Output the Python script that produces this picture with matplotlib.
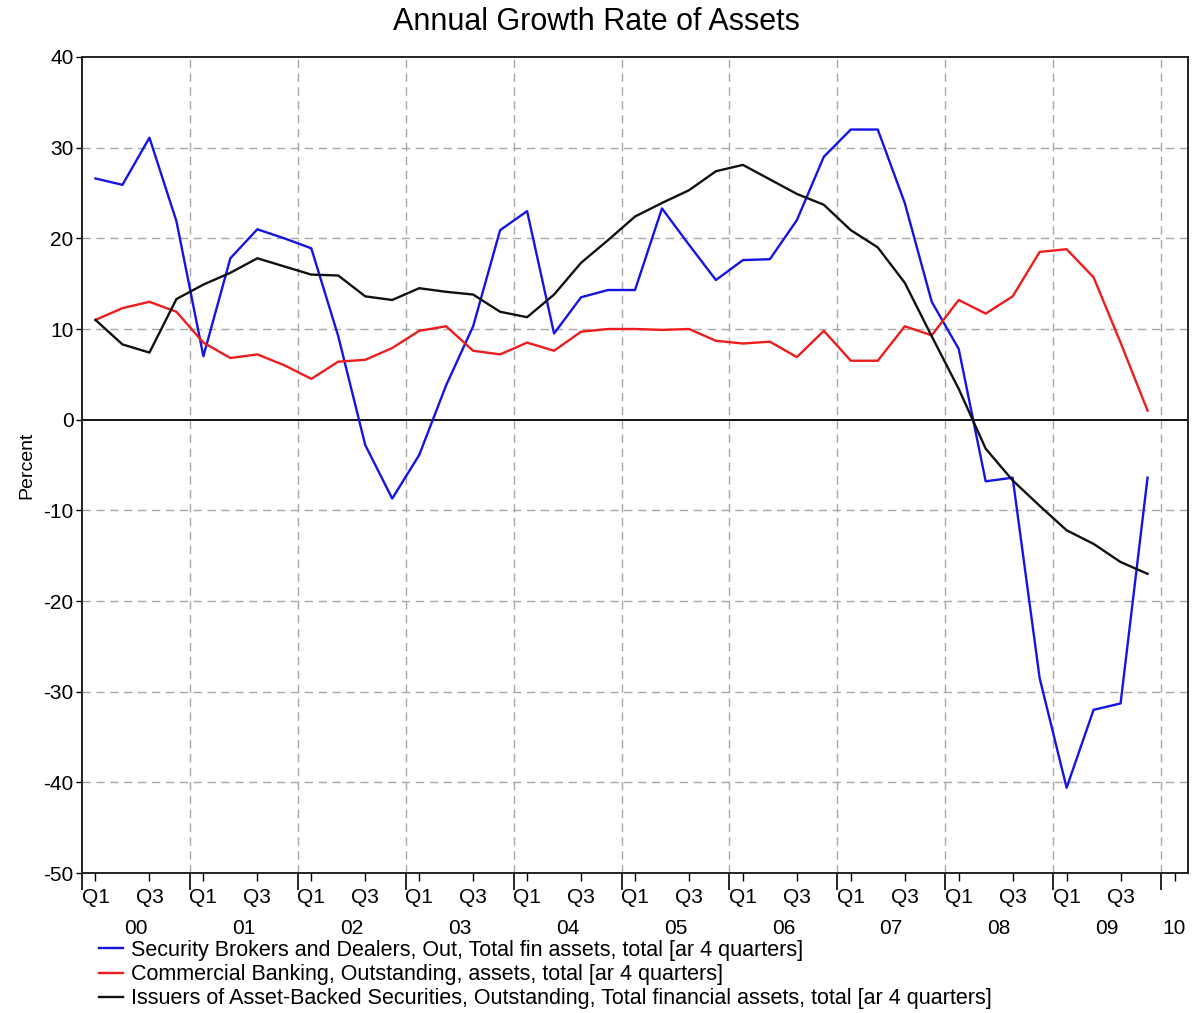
import numpy as np
import matplotlib.pyplot as plt
from matplotlib.ticker import FixedLocator

plt.rcParams["font.family"] = ["Liberation Sans", "DejaVu Sans"]
plt.rcParams["axes.unicode_minus"] = False

# ── Quarterly annual growth rates, 2000Q1 .. 2009Q4 (percent) ────────────────
YEARS = list(range(2000, 2010))
YEAR_LABELS = ["00", "01", "02", "03", "04", "05", "06", "07", "08", "09", "10"]

brokers = [26.6, 25.9, 31.1, 21.9, 7.0, 17.8, 21.0, 20.0, 18.9, 9.2,
           -2.8, -8.7, -3.9, 3.8, 10.3, 20.9, 23.0, 9.5, 13.5, 14.3,
           14.3, 23.3, 19.3, 15.4, 17.6, 17.7, 22.0, 29.0, 32.0, 32.0,
           23.9, 13.0, 7.8, -6.8, -6.4, -28.5, -40.6, -32.0, -31.3, -6.4]

banking = [11.0, 12.3, 13.0, 11.9, 8.5, 6.8, 7.2, 6.0, 4.5, 6.4,
           6.6, 7.9, 9.8, 10.3, 7.6, 7.2, 8.5, 7.6, 9.7, 10.0,
           10.0, 9.9, 10.0, 8.7, 8.4, 8.6, 6.9, 9.8, 6.5, 6.5,
           10.3, 9.3, 13.2, 11.7, 13.6, 18.5, 18.8, 15.7, 8.5, 1.0]

abs_issuers = [11.0, 8.3, 7.4, 13.3, 14.9, 16.2, 17.8, 16.9, 16.0, 15.9,
               13.6, 13.2, 14.5, 14.1, 13.8, 11.9, 11.3, 13.8, 17.3, 19.8,
               22.4, 23.9, 25.3, 27.4, 28.1, 26.5, 24.9, 23.7, 20.9, 19.0,
               15.1, 9.2, 3.4, -3.2, -6.7, -9.5, -12.2, -13.7, -15.7, -17.0]

series_labels = [
    "Security Brokers and Dealers, Out, Total fin assets, total [ar 4 quarters]",
    "Commercial Banking, Outstanding, assets, total [ar 4 quarters]",
    "Issuers of Asset-Backed Securities, Outstanding, Total financial assets, total [ar 4 quarters]",
]
series_colors = ["#1414e6", "#ee1c1c", "#111111"]

# each quarter is drawn at the middle of its slot on a fractional-year axis
t = 2000 + (np.arange(len(brokers)) + 0.5) / 4.0

fig = plt.figure(figsize=(11.92, 10.13), dpi=100)
ax = fig.add_axes([82 / 1192, 1 - 873 / 1013, 1106 / 1192, 816 / 1013])

for vals, lab, col in zip([brokers, banking, abs_issuers], series_labels, series_colors):
    ax.plot(t, vals, color=col, linewidth=1.7, label=lab, zorder=3)

ax.axhline(0, color="black", linewidth=1.3, zorder=2)

ax.set_xlim(2000, 2010.25)
ax.set_ylim(-50, 40)

# y axis
ax.set_yticks(np.arange(-50, 41, 10))
ax.tick_params(axis="y", direction="out", length=4, width=1.0, labelsize=15, pad=2)
ax.set_ylabel("Percent", fontsize=14, labelpad=6)

# x axis: long ticks at year boundaries, short labelled ticks at Q1 / Q3
ax.xaxis.set_major_locator(FixedLocator(YEARS + [2010]))
ax.set_xticklabels([""] * (len(YEARS) + 1))
q_pos = []
q_lab = []
for y in YEARS:
    q_pos += [y + 0.125, y + 0.625]
    q_lab += ["Q1", "Q3"]
q_pos.append(2010.125)
q_lab.append("")
ax.xaxis.set_minor_locator(FixedLocator(q_pos))
ax.set_xticklabels(q_lab, minor=True)
ax.tick_params(axis="x", which="major", direction="out", length=12, width=1.2)
ax.tick_params(axis="x", which="minor", direction="out", length=6, width=1.0,
               labelsize=15, pad=5)

for i, lab in enumerate(YEAR_LABELS):
    xc = 2000 + i + 0.5 if i < 10 else 2010.125
    ax.text(xc, -0.068, lab, transform=ax.get_xaxis_transform(),
            ha="center", va="center", fontsize=15)

# dashed grid
for y in range(-40, 40, 10):
    if y != 0:
        ax.axhline(y, color="#a8a8a8", linewidth=1.0, linestyle=(0, (6, 4)), zorder=1)
for y in range(2001, 2011):
    ax.axvline(y, color="#a8a8a8", linewidth=1.0, linestyle=(0, (6, 4)), zorder=1)

for s in ax.spines.values():
    s.set_linewidth(1.4)
    s.set_color("#222222")

fig.suptitle("Annual Growth Rate of Assets", fontsize=22, y=1 - 7 / 1013, va="top")

fig.legend(loc="upper left", bbox_to_anchor=(99 / 1192, 1 - 940 / 1013),
           frameon=False, fontsize=15.5, handlelength=1.1, handletextpad=0.4,
           labelspacing=0.15, borderpad=0, borderaxespad=0)

fig.savefig("out.png", dpi=100)
